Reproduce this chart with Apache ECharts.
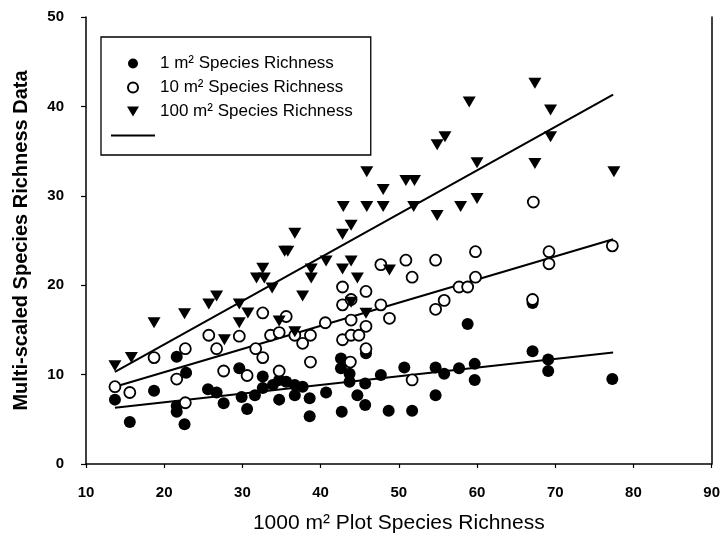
<!DOCTYPE html>
<html>
<head>
<meta charset="utf-8">
<script src="https://cdn.jsdelivr.net/npm/echarts@6/dist/echarts.min.js"></script>
<style>
  html, body { margin: 0; padding: 0; background: #fff; }
  #chart { width: 723px; height: 543px; }
</style>
</head>
<body>
<div id="chart"></div>
<script>
// Multi-scaled species richness vs. 1000 m2 plot richness

const xTicks = [10, 20, 30, 40, 50, 60, 70, 80, 90];
const yTicks = [0, 10, 20, 30, 40, 50];

const seriesNames = ['1 m² Species Richness', '10 m² Species Richness', '100 m² Species Richness'];

// [1000 m2 richness, 1 m2 richness]
const rich1 = [
  [13.7, 7.2], [15.6, 4.7], [18.7, 8.2], [21.6, 12.0], [22.8, 10.2], [21.6, 6.5],
  [21.6, 5.85], [22.6, 4.45], [25.6, 8.35], [26.7, 8.0], [27.6, 6.8], [29.6, 10.7],
  [29.9, 7.5], [30.6, 6.15], [31.6, 7.7], [32.6, 9.8], [32.6, 8.5], [33.9, 8.85],
  [34.7, 9.4], [34.7, 7.2], [35.6, 9.2], [36.7, 8.85], [36.7, 7.7], [37.7, 8.65],
  [38.6, 7.35], [38.6, 5.35], [40.7, 8.0], [42.6, 11.8], [42.6, 10.7], [42.7, 5.85],
  [43.7, 10.1], [43.7, 9.2], [44.7, 7.7], [45.7, 9.0], [45.7, 6.6], [45.8, 12.4],
  [47.7, 9.95], [48.7, 5.95], [50.7, 10.8], [51.7, 5.95], [54.7, 10.8], [54.7, 7.7],
  [55.8, 10.1], [57.7, 10.7], [58.8, 15.65], [59.7, 11.2], [59.7, 9.4], [67.1, 12.6],
  [67.1, 18.0], [69.1, 11.7], [69.1, 10.4], [77.3, 9.5]
];

// [1000 m2 richness, 10 m2 richness]
const rich10 = [
  [13.7, 8.65], [15.6, 8.0], [18.7, 11.9], [21.6, 9.5], [22.7, 12.9], [22.7, 6.85],
  [25.7, 14.4], [26.7, 12.9], [27.6, 10.4], [29.6, 14.3], [30.6, 9.9], [31.7, 12.9],
  [32.6, 16.9], [32.6, 11.9], [33.6, 14.4], [34.7, 10.4], [34.7, 14.7], [35.6, 16.5],
  [36.7, 14.4], [37.7, 13.5], [38.7, 14.4], [38.7, 11.4], [40.6, 15.8], [42.8, 19.8],
  [42.8, 17.8], [42.8, 13.9], [43.9, 18.4], [43.9, 16.1], [43.9, 14.4], [43.8, 11.4],
  [44.9, 14.4], [45.8, 19.3], [45.8, 15.4], [45.8, 12.9], [47.7, 22.3], [47.7, 17.8],
  [48.8, 16.3], [50.9, 22.8], [51.7, 20.9], [51.7, 9.4], [54.7, 22.8], [54.7, 17.3],
  [55.8, 18.3], [57.7, 19.8], [58.8, 19.8], [59.8, 20.9], [59.8, 23.75], [67.2, 29.3],
  [67.1, 18.4], [69.2, 23.75], [69.2, 22.4], [77.3, 24.4]
];

// [1000 m2 richness, 100 m2 richness]
const rich100 = [
  [13.7, 11.0], [15.8, 11.9], [18.7, 15.8], [22.6, 16.8], [25.7, 17.9], [26.7, 18.8],
  [27.7, 13.9], [29.6, 17.9], [29.6, 15.8], [30.7, 16.9], [31.8, 20.8], [32.8, 20.8],
  [32.6, 21.9], [33.8, 19.7], [34.7, 16.0], [35.4, 23.8], [35.8, 23.8], [36.7, 25.8],
  [36.7, 14.8], [37.7, 18.8], [38.8, 20.8], [38.8, 21.8], [40.7, 22.7], [42.8, 21.8],
  [42.8, 25.7], [42.9, 28.8], [43.9, 22.7], [43.9, 26.7], [43.9, 18.1], [44.7, 20.8],
  [45.8, 16.85], [45.9, 28.8], [45.9, 32.7], [48.0, 28.8], [48.0, 30.7], [48.8, 21.7],
  [50.9, 31.7], [52.0, 31.7], [51.9, 28.8], [54.9, 27.8], [54.9, 35.7], [55.9, 36.6],
  [57.9, 28.8], [59.0, 40.5], [60.0, 29.7], [60.0, 33.7], [67.4, 42.6], [67.4, 33.6],
  [69.4, 39.6], [69.4, 36.6], [77.5, 32.7]
];

// fitted trend lines: [intercept, slope], drawn across the range of x values
const trend1 = [4.98, 0.0967];
const trend10 = [5.10, 0.259];
const trend100 = [3.63, 0.487];
const trendRange = [13.7, 77.4];

function trendLine(coef) {
  return trendRange.map(x => [x, coef[0] + coef[1] * x]);
}

const FONT = '"Liberation Sans", Arial, Helvetica, sans-serif';
const TRI_DOWN = 'path://M0,0L12,0L6,10Z';
const LINE_ICON = 'path://M0,0H44V2H0Z';

const chart = echarts.init(document.getElementById('chart'), null, { renderer: 'canvas' });

const lineSeries = (coef) => ({
  name: ' ',
  type: 'line',
  data: trendLine(coef),
  symbol: 'none',
  itemStyle: { color: '#000' },
  lineStyle: { color: '#000', width: 2 },
  z: 1,
  silent: true,
  animation: false
});

chart.setOption({
  animation: false,
  backgroundColor: '#fff',
  grid: { left: 86, right: 10, top: 17, bottom: 79 },
  legend: {
    orient: 'vertical',
    left: 101,
    top: 37,
    itemWidth: 44,
    itemHeight: 10,
    itemGap: 7,
    padding: [18, 18, 11, 10],
    borderColor: '#000',
    borderWidth: 1.3,
    backgroundColor: '#fff',
    textStyle: { fontFamily: FONT, fontSize: 17, color: '#000' },
    data: [
      { name: seriesNames[0], icon: 'circle' },
      { name: seriesNames[1], icon: 'circle' },
      { name: seriesNames[2], icon: TRI_DOWN },
      { name: ' ', icon: LINE_ICON, itemStyle: { color: '#000', borderWidth: 0 } }
    ]
  },
  xAxis: {
    type: 'value',
    min: 10,
    max: 90,
    interval: 10,
    name: '1000 m² Plot Species Richness',
    nameLocation: 'middle',
    nameGap: 49,
    nameTextStyle: { fontFamily: FONT, fontSize: 21, color: '#000' },
    axisLine: { lineStyle: { color: '#000', width: 1.5 } },
    axisTick: { show: true, length: 4, lineStyle: { color: '#000', width: 1.2 } },
    axisLabel: { fontFamily: FONT, fontSize: 15, fontWeight: 'bold', color: '#000', margin: 21,
      formatter: v => (xTicks.includes(v) ? String(v) : '') },
    splitLine: { show: false }
  },
  yAxis: [
    {
      type: 'value',
      min: 0,
      max: 50,
      interval: 10,
      name: 'Multi-scaled Species Richness Data',
      nameLocation: 'middle',
      nameGap: 55,
      nameTextStyle: { fontFamily: FONT, fontSize: 20, fontWeight: 'bold', color: '#000' },
      axisLine: { show: true, lineStyle: { color: '#000', width: 1.5 } },
      axisTick: { show: true, length: 5, lineStyle: { color: '#000', width: 1.2 } },
      axisLabel: { fontFamily: FONT, fontSize: 15, fontWeight: 'bold', color: '#000', margin: 22,
        formatter: v => (yTicks.includes(v) ? String(v) : '') },
      splitLine: { show: false }
    },
    {
      type: 'value',
      min: 0,
      max: 50,
      interval: 10,
      position: 'right',
      axisLine: { show: true, lineStyle: { color: '#000', width: 1.5 } },
      axisTick: { show: false },
      axisLabel: { show: false },
      splitLine: { show: false }
    }
  ],
  series: [
    {
      name: seriesNames[0],
      type: 'scatter',
      data: rich1,
      symbol: 'circle',
      symbolSize: 12,
      itemStyle: { color: '#000', opacity: 1 },
      z: 2
    },
    {
      name: seriesNames[1],
      type: 'scatter',
      data: rich10,
      symbol: 'circle',
      symbolSize: 11,
      itemStyle: { color: '#fff', borderColor: '#000', borderWidth: 1.8, opacity: 1 },
      z: 3
    },
    {
      name: seriesNames[2],
      type: 'scatter',
      data: rich100,
      symbol: TRI_DOWN,
      symbolSize: [13, 11],
      itemStyle: { color: '#000', opacity: 1 },
      z: 4
    },
    lineSeries(trend1),
    lineSeries(trend10),
    lineSeries(trend100)
  ]
});
</script>
</body>
</html>
